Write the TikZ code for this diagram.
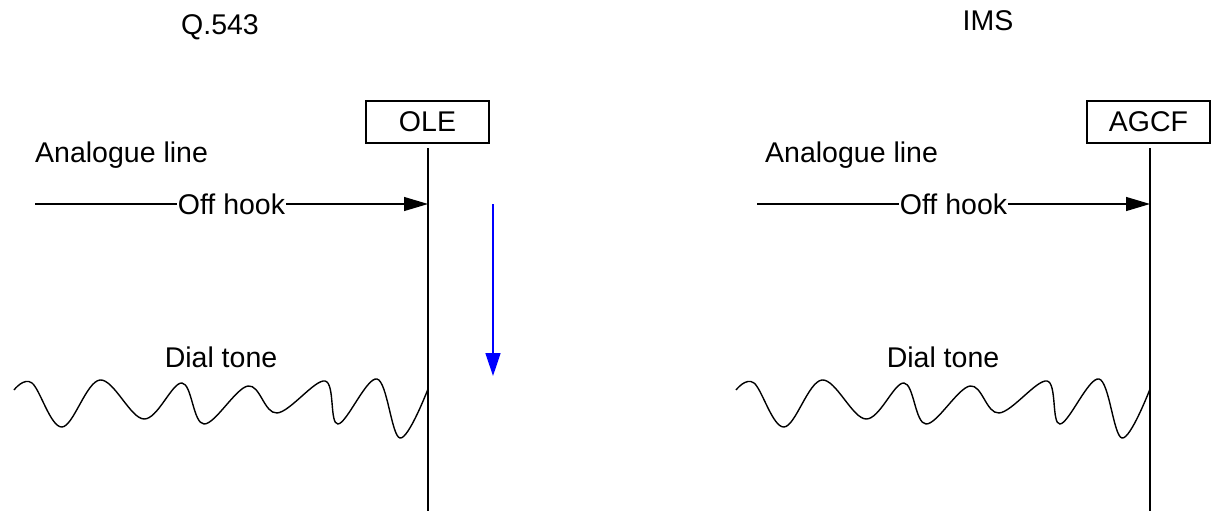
\documentclass[tikz,border=0pt]{standalone}
\usepackage{fontspec}
\setmainfont{Liberation Sans}
\usetikzlibrary{arrows.meta, positioning, calc}

\begin{document}
\begin{tikzpicture}[
    x=1pt, y=-1pt,
    lbl/.style={inner sep=0pt, anchor=base, font=\fontsize{28.5}{30}\selectfont},
    entity/.style={rectangle, draw, line width=1.2pt, minimum width=123pt, minimum height=42pt, inner sep=0pt, font=\fontsize{28.5}{30}\selectfont},
    lifeline/.style={line width=1.3pt},
    arrow/.style={-{Triangle[length=24pt, width=14pt]}, line width=1.2pt},
    bluearrow/.style={-{Triangle[length=23pt, width=15pt]}, line width=1.5pt, blue},
    msg/.style={fill=white, inner sep=1pt, font=\fontsize{28.5}{30}\selectfont},
    wave/.style={line width=1.4pt, smooth, tension=0.6},
]
    \useasboundingbox (0,0) rectangle (1212,511);

    % Titles
    \node[lbl] (qtitle) at (220,35) {Q.543};
    \node[lbl] (imstitle) at (988,31) {IMS};

    % Entities
    \node[entity] (ole) at (427.5,122) {OLE};
    \node[entity] (agcf) at (1148.5,122) {AGCF};

    % Lifelines
    \coordinate (oletop) at (428,148);
    \coordinate (olebot) at (428,511);
    \coordinate (agcftop) at (1150,148);
    \coordinate (agcfbot) at (1150,511);
    \draw[lifeline] (oletop) -- (olebot);
    \draw[lifeline] (agcftop) -- (agcfbot);

    % Line labels
    \node[lbl, anchor=base west] (linel) at (35,162) {Analogue line};
    \node[lbl, anchor=base west] (liner) at (765,162) {Analogue line};

    % Off hook
    \coordinate (hookl) at (35,204);
    \coordinate (hookr) at (757,204);
    \draw[arrow] (hookl) -- (hookl -| oletop) node[msg, midway] {Off hook};
    \draw[arrow] (hookr) -- (hookr -| agcftop) node[msg, midway] {Off hook};

    % Time arrow
    \coordinate (tstart) at (493,204);
    \coordinate (tend) at (493,376);
    \draw[bluearrow] (tstart) -- (tend);

    % Dial tone
    \node[lbl] (tonel) at (221,367) {Dial tone};
    \node[lbl] (toner) at (943,367) {Dial tone};
    \foreach \dx in {0,722}{
        \draw[wave, xshift=\dx] plot coordinates {(14,390) (32,383) (62,427) (100,380) (144,419) (182,383) (204,424) (248,386) (277,413) (325,381) (338,424) (377,379) (400,438) (428,389)};
    }
\end{tikzpicture}
\end{document}
